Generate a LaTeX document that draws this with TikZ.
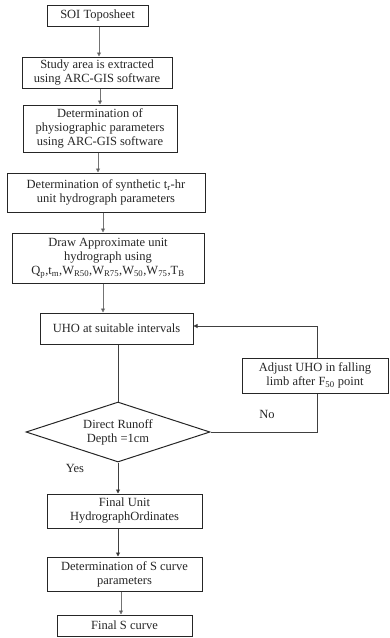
\documentclass[tikz,border=0pt]{standalone}
\usepackage{fontspec}
\setmainfont{Liberation Serif}
\usetikzlibrary{shapes.geometric,arrows.meta}
\begin{document}
\begin{tikzpicture}[x=1pt,y=-1pt,
  box/.style={draw=black!85,line width=1pt,rectangle,inner sep=0pt,align=center,font=\fontsize{12.5}{14}\selectfont,text=black!85},
  arr/.style={draw=black!55,line width=0.9pt,-{Triangle[length=4pt,width=4pt,fill=black]}},
  ln/.style={draw=black!75,line width=0.9pt},
  lbl/.style={font=\fontsize{12.5}{14}\selectfont,text=black!85,inner sep=0pt}]
\useasboundingbox (0,0) rectangle (389,638);
\node[box,minimum width=101pt,minimum height=21pt] (b1) at (97.5,15.5) {SOI Toposheet};
\node[box,minimum width=150pt,minimum height=31pt] (b2) at (97,72.5) {Study area is extracted\\using ARC-GIS software};
\node[box,minimum width=154pt,minimum height=47pt] (b3) at (100,128.5) {Determination of\\physiographic parameters\\using ARC-GIS software};
\node[box,minimum width=198pt,minimum height=39pt] (b4) at (106,192.5) {Determination of synthetic t\textsubscript{r}-hr\\unit hydrograph parameters};
\node[box,minimum width=192pt,minimum height=50pt] (b5) at (108,258) {Draw Approximate unit\\hydrograph using\\Q\textsubscript{p},t\textsubscript{m},W\textsubscript{R50},W\textsubscript{R75},W\textsubscript{50},W\textsubscript{75},T\textsubscript{B}};
\node[box,minimum width=153pt,minimum height=31pt] (b6) at (116.5,328.5) {UHO at suitable intervals};
\node[box,minimum width=146pt,minimum height=35pt] (adj) at (315,375.5) {Adjust UHO in falling\\limb after F\textsubscript{50} point};
\node[box,diamond,aspect=3.07,minimum width=184pt,minimum height=60pt] (dia) at (118,432) {Direct Runoff\\Depth =1cm};
\node[box,minimum width=155pt,minimum height=34pt] (b7) at (124.5,511) {Final Unit\\HydrographOrdinates};
\node[box,minimum width=155pt,minimum height=34pt] (b8) at (124.5,574) {Determination of S curve\\parameters};
\node[box,minimum width=135pt,minimum height=21pt] (b9) at (124.5,625.5) {Final S curve};
\coordinate (fbtop) at (317,326);
\coordinate (fbbot) at (317,432);
\node[lbl] (no) at (267,414) {No};
\node[lbl] (yes) at (75,468) {Yes};
\draw[arr] ([xshift=1.5pt]b1.south) -- ([xshift=1.5pt]b1.south |- b2.north);
\draw[arr] ([xshift=3pt]b2.south) -- ([xshift=3pt]b2.south |- b3.north);
\draw[arr] ([xshift=-2pt]b3.south) -- ([xshift=-2pt]b3.south |- b4.north);
\draw[arr] ([xshift=-3pt]b4.south) -- ([xshift=-3pt]b4.south |- b5.north);
\draw[arr] ([xshift=-5pt]b5.south) -- ([xshift=-5pt]b5.south |- b6.north);
\draw[ln] (b6.south -| dia.north) -- (dia.north);
\draw[ln] (dia.east) -- (fbbot) -- (fbbot |- adj.south);
\draw[arr,draw=black!75] (fbtop |- adj.north) -- (fbtop) -- (fbtop -| b6.east);
\draw[arr,draw=black!75] (dia.south) -- (dia.south |- b7.north);
\draw[arr,draw=black!75] ([xshift=-6.5pt]b7.south) -- ([xshift=-6.5pt]b7.south |- b8.north);
\draw[arr] ([xshift=-3.5pt]b8.south) -- ([xshift=-3.5pt]b8.south |- b9.north);
\end{tikzpicture}
\end{document}
